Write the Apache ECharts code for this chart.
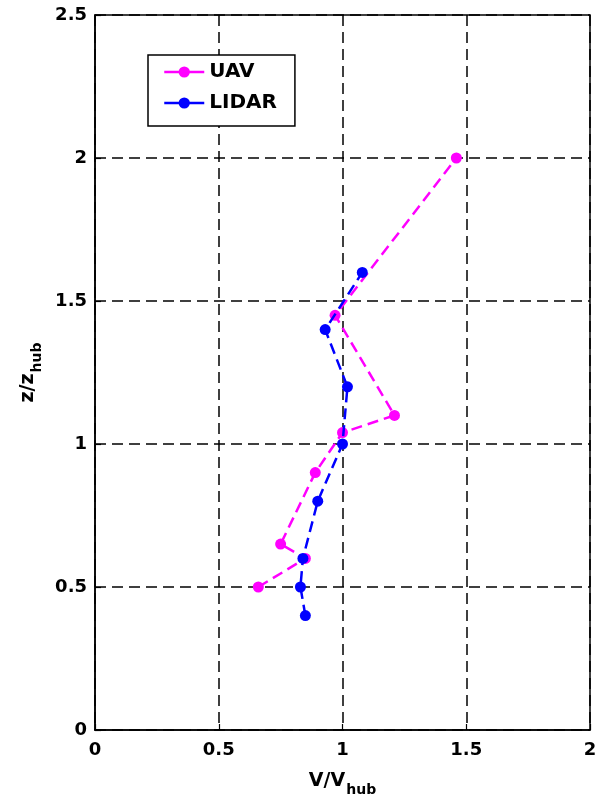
<!DOCTYPE html>
<html>
<head>
<meta charset="utf-8">
<script src="https://cdn.jsdelivr.net/npm/echarts@6/dist/echarts.min.js"></script>
<style>html,body{margin:0;padding:0;background:#fff;}#c{width:603px;height:800px;}</style>
</head>
<body>
<div id="c"></div>
<script>
// Data
const uavV = [0.66, 0.85, 0.75, 0.89, 1.00, 1.21, 0.97, 1.46];
const uavZ = [0.50, 0.60, 0.65, 0.90, 1.04, 1.10, 1.45, 2.00];
const lidarV = [0.85, 0.83, 0.84, 0.90, 1.00, 1.02, 0.93, 1.08];
const lidarZ = [0.40, 0.50, 0.60, 0.80, 1.00, 1.20, 1.40, 1.60];
const xTickLabels = ['0', '0.5', '1', '1.5', '2'];
const yTickLabels = ['0', '0.5', '1', '1.5', '2', '2.5'];
const seriesNames = ['UAV', 'LIDAR'];

const FONT = 'DejaVu Sans';
const pair = (xs, ys) => xs.map((x, i) => [x, ys[i]]);
const gridLine = { show: true, lineStyle: { color: '#000', width: 1.5, type: [11, 6] } };

const chart = echarts.init(document.getElementById('c'), null, { renderer: 'canvas' });
chart.setOption({
  animation: false,
  backgroundColor: '#fff',
  grid: { left: 95, right: 13, top: 15, bottom: 70, outerBoundsMode: 'none', containLabel: false,
    show: true, borderColor: '#000', borderWidth: 1.5, backgroundColor: 'transparent' },
  legend: {
    orient: 'vertical', left: 148, top: 55,
    padding: [6, 18, 12, 15],
    itemGap: 9, itemWidth: 40, itemHeight: 14, itemTextGap: 10,
    borderColor: '#000', borderWidth: 1.5, backgroundColor: '#fff',
    lineStyle: { type: 'solid', width: 2.5 },
    textStyle: { fontFamily: FONT, fontWeight: 'bold', fontSize: 20, lineHeight: 22, color: '#000' },
    data: seriesNames
  },
  xAxis: {
    type: 'value', min: 0, max: 2, interval: 0.5,
    axisLine: { show: true, lineStyle: { color: '#000', width: 1.5 } },
    axisTick: { show: true, inside: true, length: 6, lineStyle: { color: '#000', width: 1.2 } },
    axisLabel: { margin: 11, color: '#000', fontFamily: FONT, fontWeight: 'bold', fontSize: 18,
      formatter: (v) => xTickLabels[Math.round(v / 0.5)] },
    splitLine: gridLine,
    name: 'V/V{s|hub}', nameLocation: 'middle', nameGap: 35,
    nameTextStyle: { color: '#000', fontFamily: FONT, fontWeight: 'bold', fontSize: 19,
      rich: {
        s: { fontFamily: FONT, fontWeight: 'bold', fontSize: 14, color: '#000', padding: [18, 0, 0, 1], verticalAlign: 'bottom' }
      } }
  },
  yAxis: {
    type: 'value', min: 0, max: 2.5, interval: 0.5,
    axisLine: { show: true, lineStyle: { color: '#000', width: 1.5 } },
    axisTick: { show: true, inside: true, length: 6, lineStyle: { color: '#000', width: 1.2 } },
    axisLabel: { margin: 8, color: '#000', fontFamily: FONT, fontWeight: 'bold', fontSize: 18,
      formatter: (v) => yTickLabels[Math.round(v / 0.5)] },
    splitLine: gridLine,
    name: 'z/z{s|hub}', nameLocation: 'middle', nameGap: 50, nameRotate: 90,
    nameTextStyle: { color: '#000', fontFamily: FONT, fontWeight: 'bold', fontSize: 19,
      rich: {
        s: { fontFamily: FONT, fontWeight: 'bold', fontSize: 14, color: '#000', padding: [18, 0, 0, 1], verticalAlign: 'bottom' }
      } }
  },
  series: [
    {
      name: seriesNames[0], type: 'line', data: pair(uavV, uavZ),
      symbol: 'circle', symbolSize: 11, showSymbol: true,
      itemStyle: { color: '#ff00ff' },
      lineStyle: { color: '#ff00ff', width: 2.5, type: [11, 6] }, z: 2
    },
    {
      name: seriesNames[1], type: 'line', data: pair(lidarV, lidarZ),
      symbol: 'circle', symbolSize: 11, showSymbol: true,
      itemStyle: { color: '#0000ff' },
      lineStyle: { color: '#0000ff', width: 2.5, type: [11, 6] }, z: 3
    }
  ]
});
</script>
</body>
</html>
